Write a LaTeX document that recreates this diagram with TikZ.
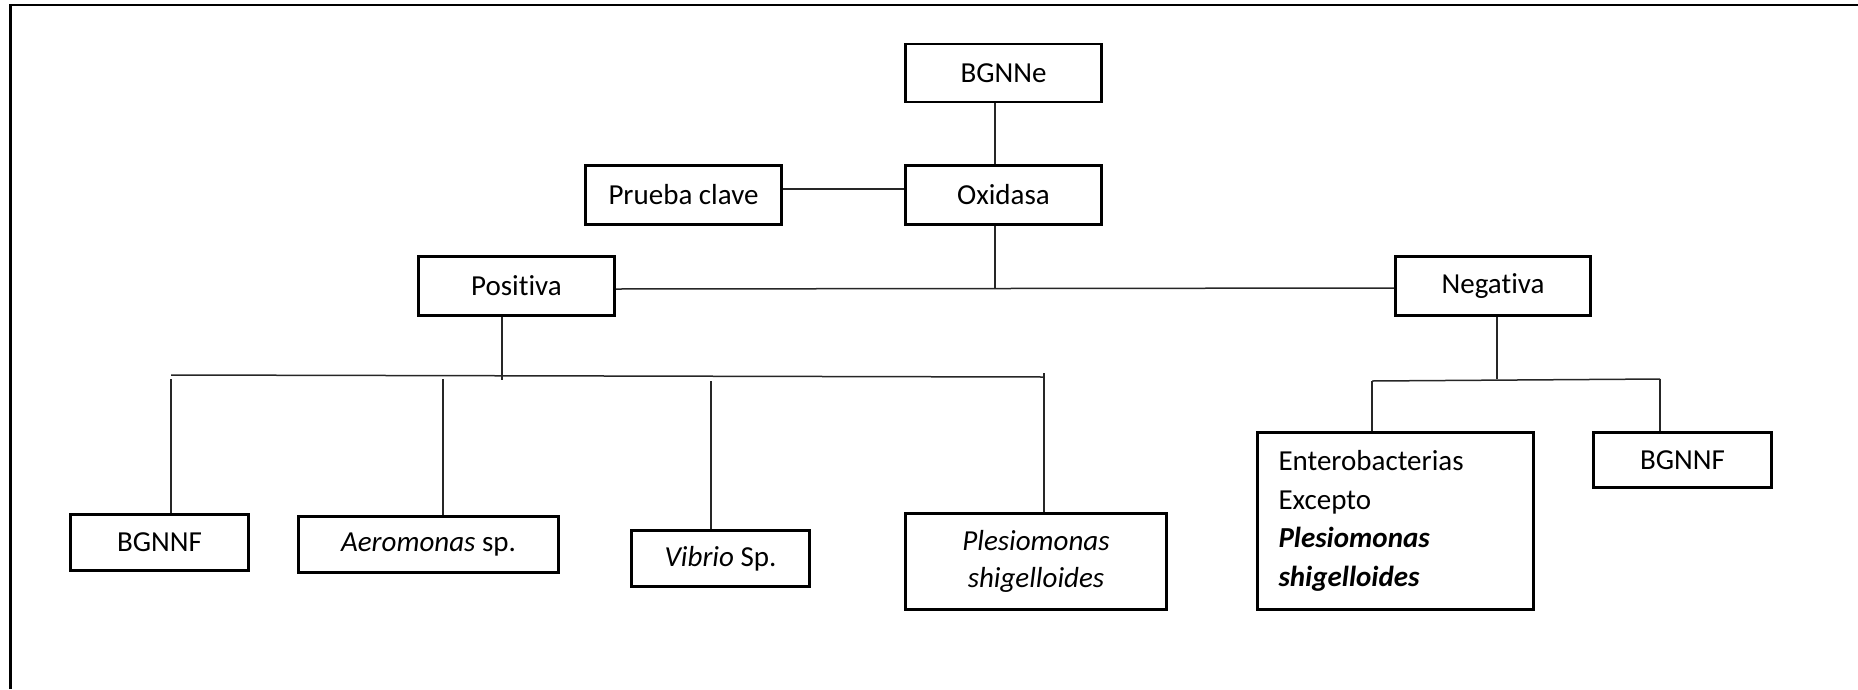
\documentclass[tikz,border=0pt]{standalone}
\usepackage{fontspec}
\setmainfont[RawFeature={-liga;-clig}]{Carlito}
\begin{document}
\begin{tikzpicture}[x=1pt,y=-1pt,
  box/.style={draw=black, line width=2.6pt, inner sep=0pt, align=center,
    font={\fontsize{29}{37}\selectfont}},
  conn/.style={draw=black!85, line width=1.5pt},
  frame/.style={draw=black, line width=2.6pt}]
\useasboundingbox (0,0) rectangle (1858,689);
% page frame (top and left edges)
\draw[frame] (10.5,689) -- (10.5,5) -- (1858,5);

% boxes
\node[box, minimum width=196pt, minimum height=58pt] (bgnne) at (1003.5,73) {BGNNe};
\node[box, minimum width=196pt, minimum height=59pt] (oxi) at (1003.5,195) {Oxidasa};
\node[box, minimum width=196pt, minimum height=59pt] (prueba) at (683.5,195) {Prueba clave};
\node[box, minimum width=196pt, minimum height=59pt] (pos) at (516.5,286) {Positiva};
\node[box, minimum width=195pt, minimum height=59pt] (neg) at (1493,286) {Negativa};
\node[box, minimum width=178pt, minimum height=56pt] (f1) at (159.5,542.5) {BGNNF};
\node[box, minimum width=260pt, minimum height=56pt] (aero) at (428.5,544.5) {\textit{Aeromonas} sp.};
\node[box, minimum width=178pt, minimum height=56pt] (vib) at (720.5,558.5) {\textit{Vibrio} Sp.};
\node[box, minimum width=261pt, minimum height=96pt] (ples) at (1036,561.5) {\textit{Plesiomonas}\\[0pt]\textit{shigelloides}};
\node[box, minimum width=276pt, minimum height=177pt, text width=234pt, align=left,
  font={\fontsize{29}{38.7}\selectfont}] (ent) at (1395.5,521)
  {Enterobacterias\\Excepto\\\textbf{\textit{Plesiomonas}}\\\textbf{\textit{shigelloides}}};
\node[box, minimum width=178pt, minimum height=55pt] (f2) at (1682.5,460) {BGNNF};

% branch points
\coordinate (pbarL) at (171,375);
\coordinate (pbarR) at (1044,377);
\coordinate (nbarL) at (1372,381);
\coordinate (nbarR) at (1660,379);

% upper connectors
\draw[conn] ([xshift=-8.5pt]bgnne.south) -- ([xshift=-8.5pt]oxi.north);
\draw[conn] ([yshift=6pt]prueba.east) -- ([yshift=6pt]oxi.west);
\draw[conn] ([xshift=-8.5pt]oxi.south) -- ++(0,62);
\draw[conn] ([yshift=-3pt]pos.east) -- ([yshift=-2pt]neg.west);

% positive branch
\draw[conn] ([xshift=-14.5pt]pos.south) -- ++(0,63);
\draw[conn] (pbarL) -- (pbarR);
\draw[conn] ([yshift=-4pt]pbarL) -- ([xshift=11.5pt]f1.north);
\draw[conn] (443,379) -- ([xshift=14.5pt]aero.north);
\draw[conn] (711,381) -- ([xshift=-9.5pt]vib.north);
\draw[conn] ([yshift=4pt]pbarR) -- ([xshift=8pt]ples.north);

% negative branch
\draw[conn] ([xshift=4pt]neg.south) -- ++(0,62);
\draw[conn] (nbarL) -- (nbarR);
\draw[conn] (nbarL) -- ([xshift=-23.5pt]ent.north);
\draw[conn] (nbarR) -- ([xshift=-22.5pt]f2.north);
\end{tikzpicture}
\end{document}
